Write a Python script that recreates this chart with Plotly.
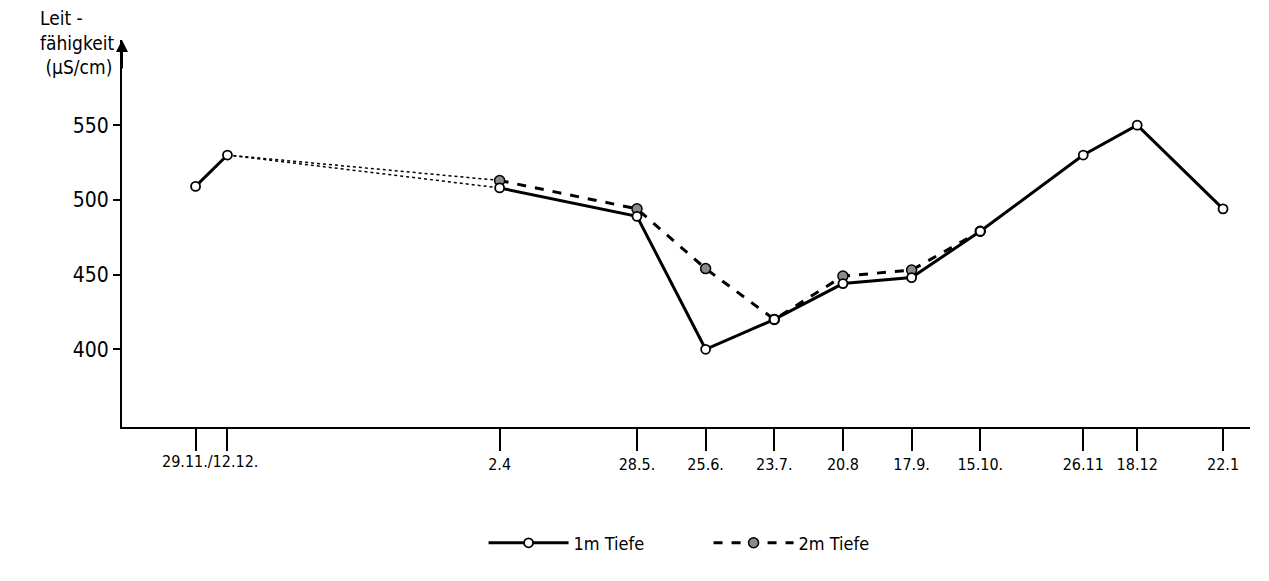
import plotly.graph_objects as go

# Sampling dates and conductivity values (µS/cm)
dates = ["1980-11-29", "1980-12-12", "1981-04-02", "1981-05-28", "1981-06-25",
         "1981-07-23", "1981-08-20", "1981-09-17", "1981-10-15", "1981-11-26",
         "1981-12-18", "1982-01-22"]
tick_labels = ["", "", "2.4", "28.5.", "25.6.", "23.7.", "20.8", "17.9.", "15.10.",
               "26.11", "18.12", "22.1"]
first_label = "29.11./12.12."
first_label_date = "1980-12-05"

depth1_values = [509, 530, 508, 489, 400, 420, 444, 448, 479, 530, 550, 494]
depth2_dates = ["1981-04-02", "1981-05-28", "1981-06-25", "1981-07-23",
                "1981-08-20", "1981-09-17", "1981-10-15"]
depth2_values = [513, 494, 454, 420, 449, 453, 479]

y_ticks = [400, 450, 500, 550]

font_family = "DejaVu Sans Condensed, Liberation Sans Narrow, Arial Narrow, sans-serif"

fig = go.Figure()

# dotted connectors across the winter gap
fig.add_trace(go.Scatter(x=[dates[1], dates[2]], y=[depth1_values[1], depth1_values[2]],
                         mode="lines", line=dict(color="black", width=1.5, dash="dot"),
                         showlegend=False, hoverinfo="skip"))
fig.add_trace(go.Scatter(x=[dates[1], depth2_dates[0]], y=[depth1_values[1], depth2_values[0]],
                         mode="lines", line=dict(color="black", width=1.5, dash="dot"),
                         showlegend=False, hoverinfo="skip"))

# 2 m depth (dashed, grey filled markers)
fig.add_trace(go.Scatter(x=depth2_dates, y=depth2_values, mode="lines+markers",
                         name="2m Tiefe",
                         line=dict(color="black", width=3, dash="dash"),
                         marker=dict(symbol="circle", size=10, color="#8a8a8a",
                                     line=dict(color="black", width=1.5))))

# 1 m depth (solid, open markers), broken between 12.12 and 2.4
x1 = dates[:2] + [None] + dates[2:]
y1 = depth1_values[:2] + [None] + depth1_values[2:]
fig.add_trace(go.Scatter(x=x1, y=y1, mode="lines+markers", name="1m Tiefe",
                         connectgaps=False,
                         line=dict(color="black", width=3),
                         marker=dict(symbol="circle", size=9, color="white",
                                     line=dict(color="black", width=1.8))))

fig.update_xaxes(type="date", range=["1980-10-30", "1982-02-02"],
                 tickmode="array", tickvals=dates, ticktext=tick_labels,
                 ticks="outside", ticklen=22, tickwidth=2, tickcolor="black",
                 showline=True, linecolor="black", linewidth=2,
                 showgrid=False, zeroline=False,
                 tickfont=dict(family=font_family, size=16, color="black"))
fig.update_yaxes(range=[348, 607], tickmode="array", tickvals=y_ticks,
                 ticks="outside", ticklen=7, tickwidth=2, tickcolor="black",
                 showline=True, linecolor="black", linewidth=2,
                 showgrid=False, zeroline=False,
                 tickfont=dict(family=font_family, size=21, color="black"))

fig.add_annotation(x=first_label_date, y=0, xref="x", yref="paper", yanchor="middle",
                   yshift=-34, text=first_label, showarrow=False,
                   font=dict(family=font_family, size=16, color="black"))

# axis title
fig.add_annotation(x=0, y=1, xref="paper", yref="paper", xanchor="right", yanchor="bottom",
                   xshift=-6, yshift=-40, align="left",
                   text="Leit -<br>fähigkeit<br> (µS/cm)", showarrow=False,
                   font=dict(family=font_family, size=19, color="black"))

# arrow at top of y axis
fig.add_annotation(x=0, y=1.0, xref="paper", yref="paper", ax=0, ay=30,
                   showarrow=True, arrowhead=2, arrowsize=1.2, arrowwidth=2,
                   arrowcolor="black", text="")

fig.update_layout(width=1253, height=565,
                  margin=dict(l=114, r=11, t=32, b=143),
                  plot_bgcolor="white", paper_bgcolor="white",
                  font=dict(family=font_family, color="black"),
                  legend=dict(orientation="h", x=0.52, xanchor="center", y=-0.30,
                              yanchor="middle", traceorder="reversed",
                              entrywidth=130, entrywidthmode="pixels",
                              font=dict(family=font_family, size=18, color="black"),
                              itemwidth=80))

fig.write_html("out.html")
